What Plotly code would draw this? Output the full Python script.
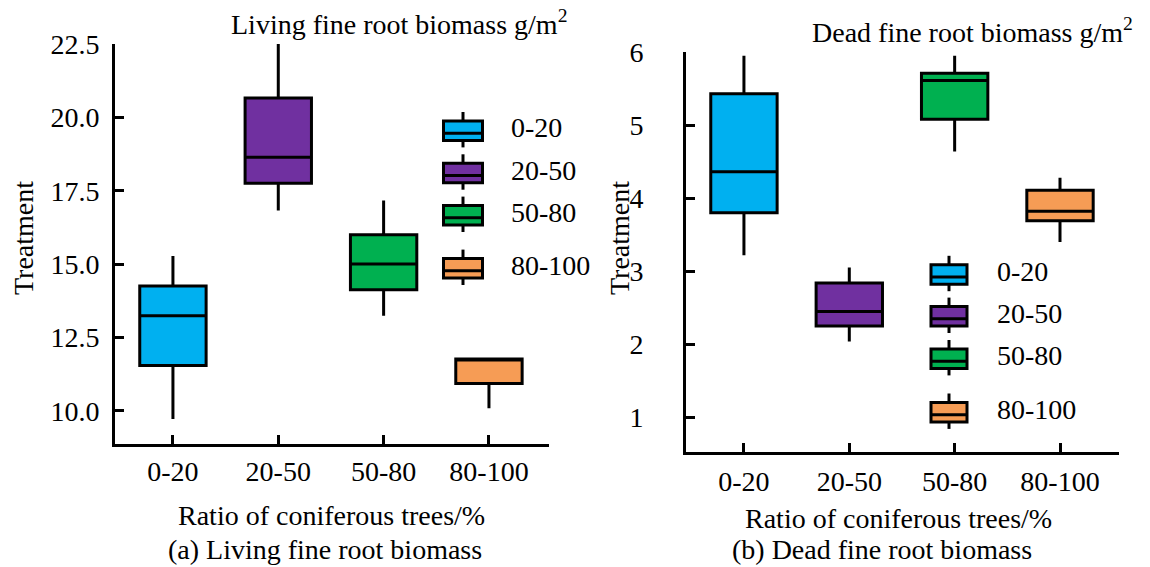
import plotly.graph_objects as go

# ---- data ---------------------------------------------------------------
groups = ["0-20", "20-50", "50-80", "80-100"]
colors = ["#00B0F0", "#7030A0", "#00B050", "#F69C55"]

# (a) living fine root biomass, g/m2
live_low = [9.73, 16.83, 13.24, 10.09]
live_q1 = [11.55, 17.76, 14.13, 10.94]
live_med = [13.24, 18.64, 15.01, 11.75]
live_q3 = [14.26, 20.66, 16.00, 11.77]
live_high = [15.28, 22.65, 17.17, 11.77]

# (b) dead fine root biomass, g/m2
dead_low = [3.22, 2.04, 4.64, 3.40]
dead_q1 = [3.80, 2.25, 5.08, 3.69]
dead_med = [4.36, 2.45, 5.61, 3.82]
dead_q3 = [5.43, 2.84, 5.71, 4.11]
dead_high = [5.95, 3.05, 5.95, 4.28]

W, H = 1150, 567
FONT = "Liberation Serif"
FS = 28


def px(x):
    return x / W


def py(y):
    return 1 - y / H


fig = go.Figure()

panels = [
    ("x", "y", live_low, live_q1, live_med, live_q3, live_high),
    ("x2", "y2", dead_low, dead_q1, dead_med, dead_q3, dead_high),
]
for xa, ya, lo, q1, md, q3, hi in panels:
    for i, g in enumerate(groups):
        fig.add_trace(go.Box(
            x=[g], lowerfence=[lo[i]], q1=[q1[i]], median=[md[i]],
            q3=[q3[i]], upperfence=[hi[i]],
            fillcolor=colors[i], line=dict(color="black", width=3),
            whiskerwidth=0, width=0.63, boxpoints=False,
            xaxis=xa, yaxis=ya, showlegend=False, name=g,
        ))

axis_common = dict(
    showline=True, linecolor="black", linewidth=3, mirror=False,
    ticks="inside", ticklen=9, tickwidth=3, tickcolor="black",
    showgrid=False, zeroline=False, automargin=False,
    tickfont=dict(family=FONT, size=FS, color="black"),
)

fig.update_layout(
    width=W, height=H,
    margin=dict(l=0, r=0, t=0, b=0, pad=0, autoexpand=False),
    plot_bgcolor="white", paper_bgcolor="white",
    boxmode="overlay", showlegend=False,
    font=dict(family=FONT, size=FS, color="black"),
    xaxis=dict(domain=[px(115), px(549)], anchor="y", type="category",
               categoryorder="array", categoryarray=groups,
               range=[-0.55, 3.57], ticklabelstandoff=0, **axis_common),
    yaxis=dict(domain=[py(444), py(44)], anchor="x", range=[8.875, 22.5],
               tick0=10, dtick=2.5, tickformat=".1f",
               ticklabelstandoff=7, **axis_common),
    xaxis2=dict(domain=[px(686), px(1119)], anchor="y2", type="category",
                categoryorder="array", categoryarray=groups,
                range=[-0.55, 3.56], ticklabelstandoff=2, **axis_common),
    yaxis2=dict(domain=[py(452), py(52)], anchor="x2", range=[0.527, 6],
                tick0=1, dtick=1, ticklabelstandoff=34, **axis_common),
)

# ---- text: panel titles, axis titles, captions --------------------------
texts = [
    (399, 22, "Living fine root biomass g/m<sup>2</sup>", 0),
    (972, 30, "Dead fine root biomass g/m<sup>2</sup>", 0),
    (331, 515, "Ratio of coniferous trees/%", 0),
    (898, 518, "Ratio of coniferous trees/%", 0),
    (23, 238, "Treatment", -90),
    (619, 238, "Treatment", -90),
    (325, 549, "(a) Living fine root biomass", 0),
    (882, 549, "(b) Dead fine root biomass", 0),
]
for x, y, t, ang in texts:
    fig.add_annotation(x=px(x), y=py(y), xref="paper", yref="paper",
                       text=t, showarrow=False, textangle=ang,
                       xanchor="center", yanchor="middle",
                       font=dict(family=FONT, size=FS, color="black"))

# ---- hand-drawn legends (small box glyphs + labels) ---------------------
legend_specs = [
    # icon centre x, icon half width, label x, row centres
    (463, 19.5, 509, [130.7, 173.0, 215.3, 268.3]),
    (949, 18.0, 995, [274.5, 316.3, 358.7, 412.2]),
]
for cx, hw, lx, rows in legend_specs:
    for i, cy in enumerate(rows):
        bh = 9.7
        fig.add_shape(type="line", xref="paper", yref="paper",
                      x0=px(cx), x1=px(cx), y0=py(cy - bh - 9), y1=py(cy + bh + 7),
                      line=dict(color="black", width=3))
        fig.add_shape(type="rect", xref="paper", yref="paper",
                      x0=px(cx - hw), x1=px(cx + hw), y0=py(cy - bh), y1=py(cy + bh),
                      fillcolor=colors[i], line=dict(color="black", width=3))
        fig.add_shape(type="line", xref="paper", yref="paper",
                      x0=px(cx - hw), x1=px(cx + hw), y0=py(cy + 2.5), y1=py(cy + 2.5),
                      line=dict(color="black", width=3))
        fig.add_annotation(x=px(lx), y=py(cy - 3), xref="paper", yref="paper",
                           text=groups[i], showarrow=False,
                           xanchor="left", yanchor="middle",
                           font=dict(family=FONT, size=FS, color="black"))

fig.write_html("out.html")
